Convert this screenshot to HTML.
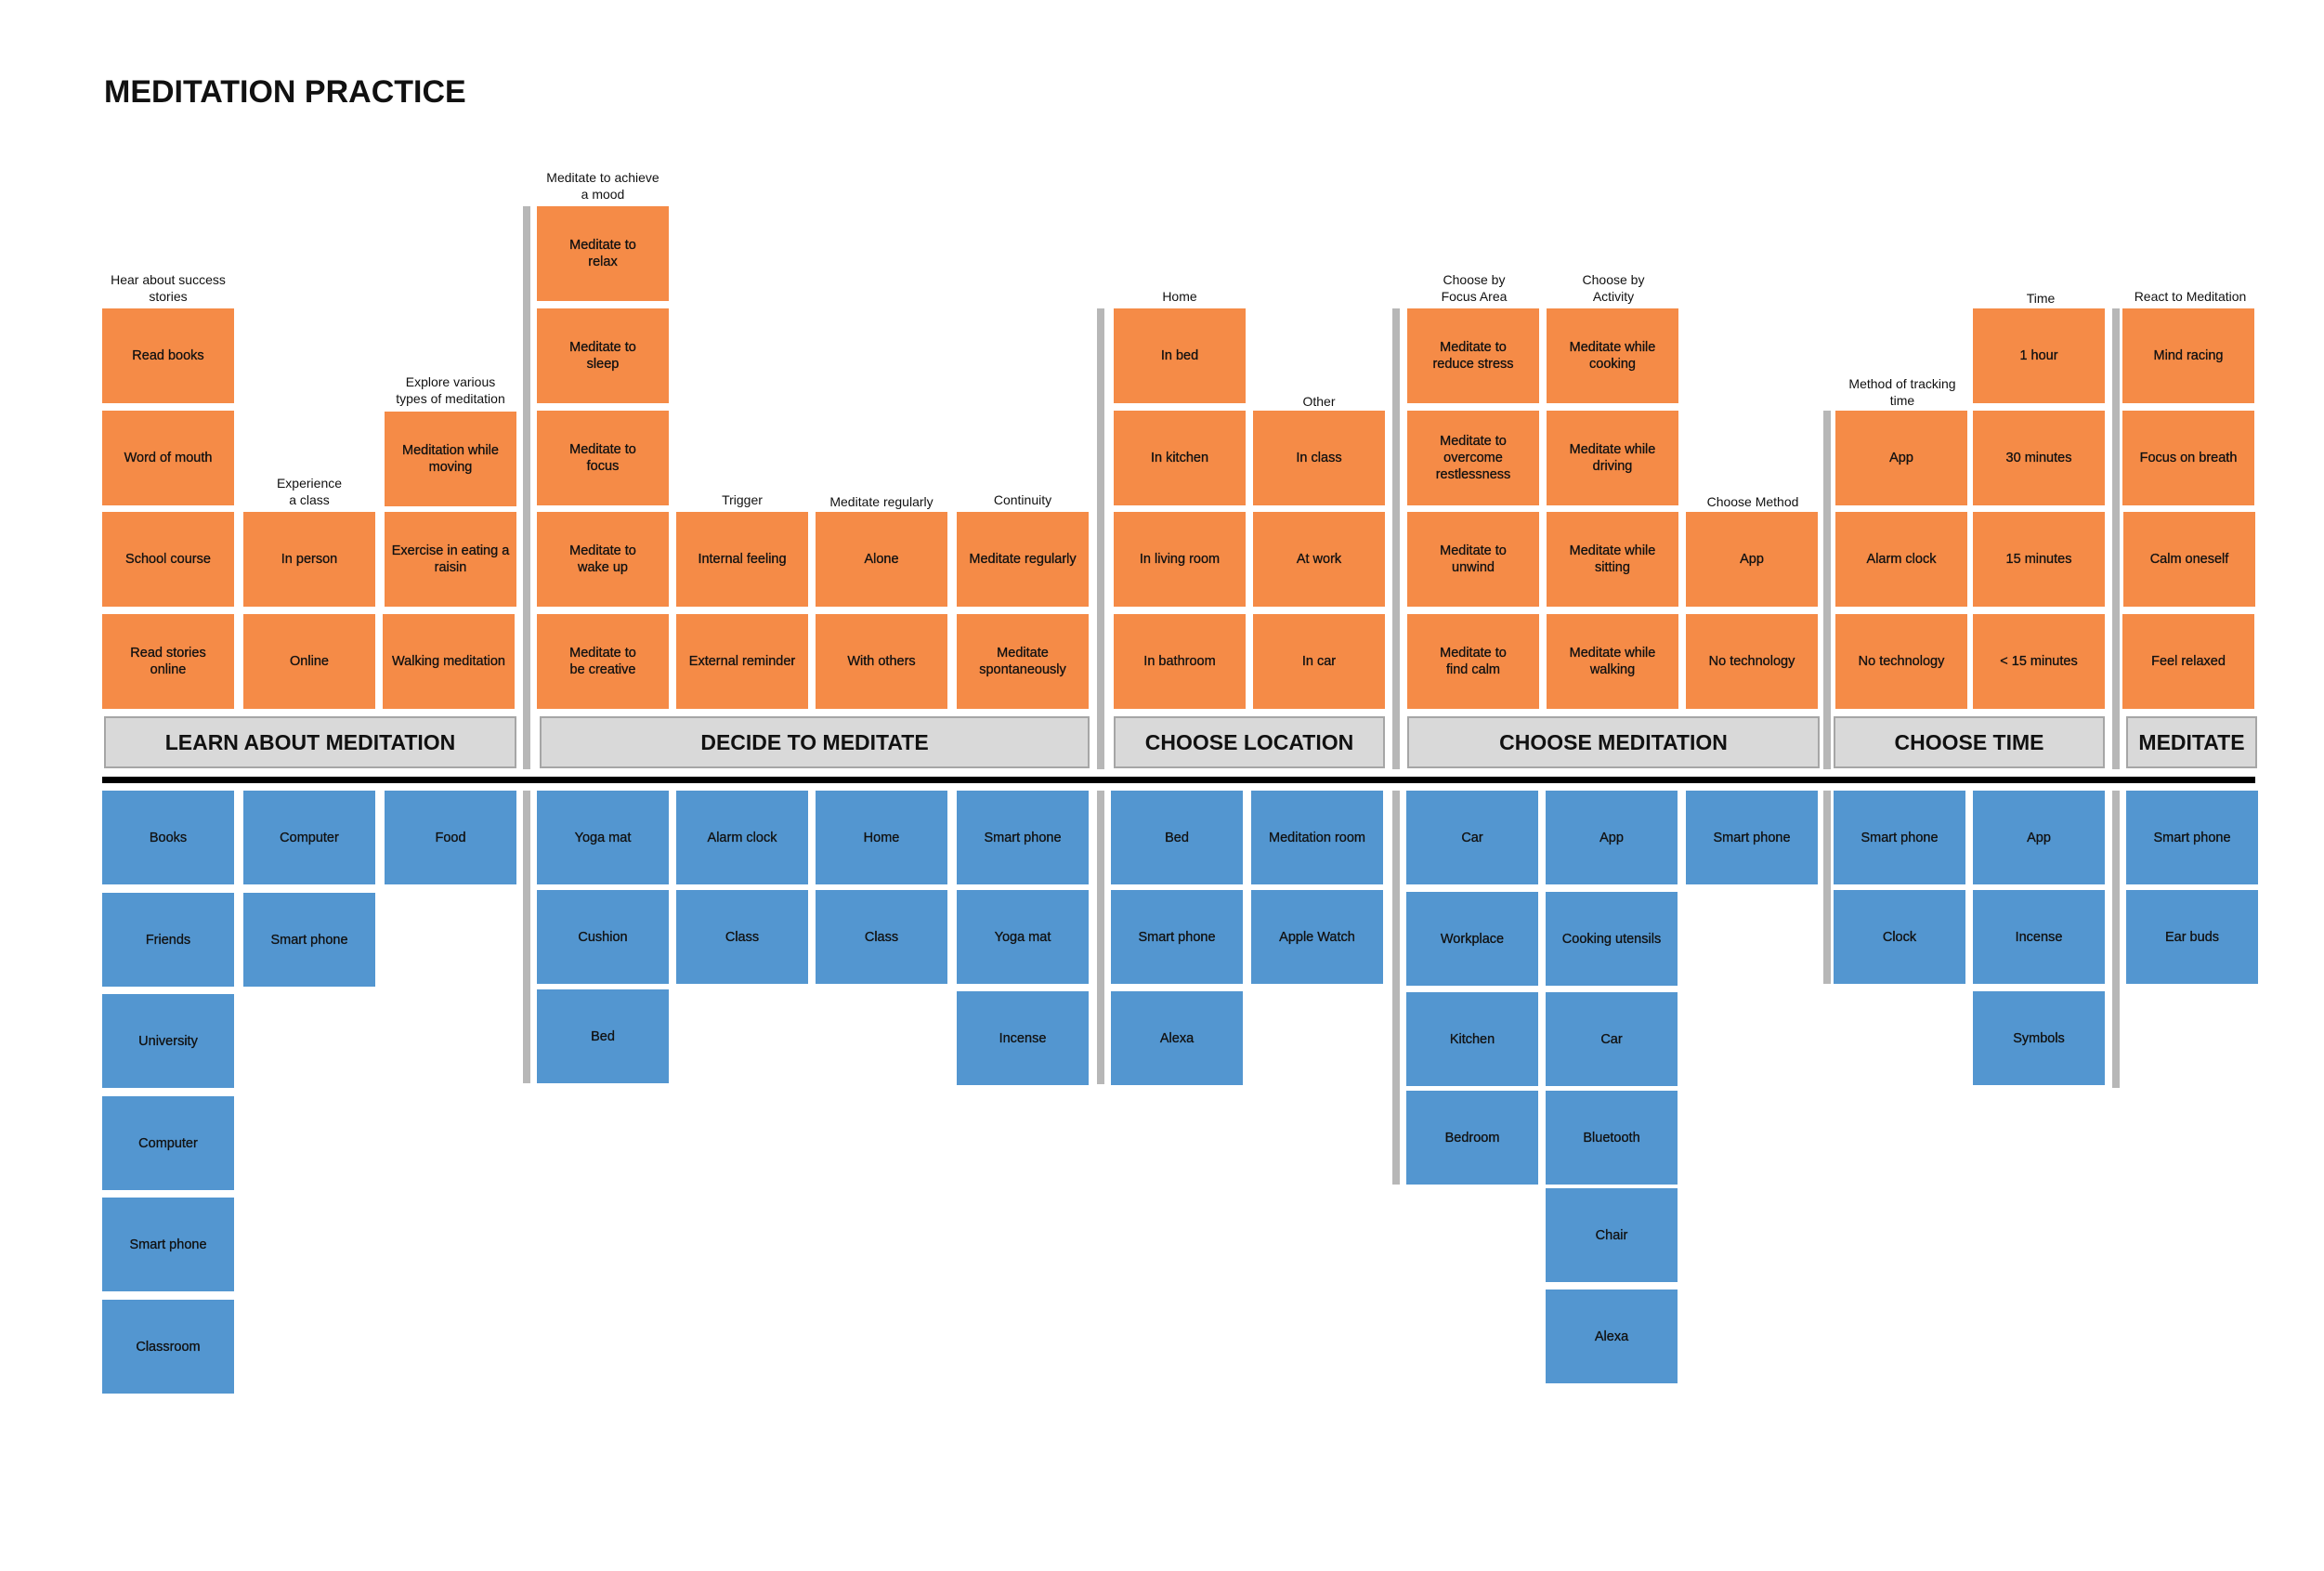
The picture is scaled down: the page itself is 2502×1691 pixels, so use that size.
<!DOCTYPE html>
<html><head><meta charset="utf-8"><style>
body{margin:0;width:2502px;height:1691px;background:#fff;position:relative;overflow:hidden;font-family:"Liberation Sans",sans-serif;color:#111}
.b{position:absolute;width:142px;height:102px;display:flex;align-items:center;justify-content:center;text-align:center;font-size:14.5px;line-height:18px;-webkit-text-stroke:0.3px #111;box-sizing:border-box;padding:0 4px}
.o{background:#F58B47}
.u{background:#5396D0;height:101px}
.l{position:absolute;width:180px;height:40px;display:flex;align-items:flex-end;justify-content:center;text-align:center;font-size:14px;line-height:18px}
.h{position:absolute;top:771px;height:56px;background:#D9D9D9;border:2px solid #A6A6A6;box-sizing:border-box;display:flex;align-items:center;justify-content:center;font-weight:bold;font-size:23px}
.s{position:absolute;width:8px;background:#B7B7B7}
</style></head><body>
<div style="position:absolute;left:112px;top:80px;font-weight:bold;font-size:34px;">MEDITATION PRACTICE</div>

<!-- labels -->
<div class="l" style="left:91px;top:288px">Hear about success<br>stories</div>
<div class="l" style="left:243px;top:507px">Experience<br>a class</div>
<div class="l" style="left:395px;top:398px">Explore various<br>types of meditation</div>
<div class="l" style="left:559px;top:178px">Meditate to achieve<br>a mood</div>
<div class="l" style="left:709px;top:507px">Trigger</div>
<div class="l" style="left:859px;top:509px">Meditate regularly</div>
<div class="l" style="left:1011px;top:507px">Continuity</div>
<div class="l" style="left:1180px;top:288px">Home</div>
<div class="l" style="left:1330px;top:401px">Other</div>
<div class="l" style="left:1497px;top:288px">Choose by<br>Focus Area</div>
<div class="l" style="left:1647px;top:288px">Choose by<br>Activity</div>
<div class="l" style="left:1797px;top:509px">Choose Method</div>
<div class="l" style="left:1958px;top:400px">Method of tracking<br>time</div>
<div class="l" style="left:2107px;top:290px">Time</div>
<div class="l" style="left:2268px;top:288px">React to Meditation</div>

<!-- orange -->
<div class="b o" style="left:110px;top:332px">Read books</div>
<div class="b o" style="left:110px;top:442px">Word of mouth</div>
<div class="b o" style="left:110px;top:551px">School course</div>
<div class="b o" style="left:110px;top:661px">Read stories<br>online</div>
<div class="b o" style="left:262px;top:551px">In person</div>
<div class="b o" style="left:262px;top:661px">Online</div>
<div class="b o" style="left:414px;top:443px">Meditation while<br>moving</div>
<div class="b o" style="left:414px;top:551px">Exercise in eating a<br>raisin</div>
<div class="b o" style="left:412px;top:661px">Walking meditation</div>
<div class="b o" style="left:578px;top:222px">Meditate to<br>relax</div>
<div class="b o" style="left:578px;top:332px">Meditate to<br>sleep</div>
<div class="b o" style="left:578px;top:442px">Meditate to<br>focus</div>
<div class="b o" style="left:578px;top:551px">Meditate to<br>wake up</div>
<div class="b o" style="left:578px;top:661px">Meditate to<br>be creative</div>
<div class="b o" style="left:728px;top:551px">Internal feeling</div>
<div class="b o" style="left:728px;top:661px">External reminder</div>
<div class="b o" style="left:878px;top:551px">Alone</div>
<div class="b o" style="left:878px;top:661px">With others</div>
<div class="b o" style="left:1030px;top:551px">Meditate regularly</div>
<div class="b o" style="left:1030px;top:661px">Meditate<br>spontaneously</div>
<div class="b o" style="left:1199px;top:332px">In bed</div>
<div class="b o" style="left:1199px;top:442px">In kitchen</div>
<div class="b o" style="left:1199px;top:551px">In living room</div>
<div class="b o" style="left:1199px;top:661px">In bathroom</div>
<div class="b o" style="left:1349px;top:442px">In class</div>
<div class="b o" style="left:1349px;top:551px">At work</div>
<div class="b o" style="left:1349px;top:661px">In car</div>
<div class="b o" style="left:1515px;top:332px">Meditate to<br>reduce stress</div>
<div class="b o" style="left:1515px;top:442px">Meditate to<br>overcome<br>restlessness</div>
<div class="b o" style="left:1515px;top:551px">Meditate to<br>unwind</div>
<div class="b o" style="left:1515px;top:661px">Meditate to<br>find calm</div>
<div class="b o" style="left:1665px;top:332px">Meditate while<br>cooking</div>
<div class="b o" style="left:1665px;top:442px">Meditate while<br>driving</div>
<div class="b o" style="left:1665px;top:551px">Meditate while<br>sitting</div>
<div class="b o" style="left:1665px;top:661px">Meditate while<br>walking</div>
<div class="b o" style="left:1815px;top:551px">App</div>
<div class="b o" style="left:1815px;top:661px">No technology</div>
<div class="b o" style="left:1976px;top:442px">App</div>
<div class="b o" style="left:1976px;top:551px">Alarm clock</div>
<div class="b o" style="left:1976px;top:661px">No technology</div>
<div class="b o" style="left:2124px;top:332px">1 hour</div>
<div class="b o" style="left:2124px;top:442px">30 minutes</div>
<div class="b o" style="left:2124px;top:551px">15 minutes</div>
<div class="b o" style="left:2124px;top:661px">&lt; 15 minutes</div>
<div class="b o" style="left:2285px;top:332px">Mind racing</div>
<div class="b o" style="left:2285px;top:442px">Focus on breath</div>
<div class="b o" style="left:2286px;top:551px">Calm oneself</div>
<div class="b o" style="left:2285px;top:661px">Feel relaxed</div>

<!-- headers -->
<div class="h" style="left:112px;width:444px">LEARN ABOUT MEDITATION</div>
<div class="h" style="left:581px;width:592px">DECIDE TO MEDITATE</div>
<div class="h" style="left:1199px;width:292px">CHOOSE LOCATION</div>
<div class="h" style="left:1515px;width:444px">CHOOSE MEDITATION</div>
<div class="h" style="left:1974px;width:292px">CHOOSE TIME</div>
<div class="h" style="left:2289px;width:141px">MEDITATE</div>

<div style="position:absolute;left:110px;top:836px;width:2318px;height:7px;background:#000"></div>

<!-- separators -->
<div class="s" style="left:563px;top:222px;height:606px"></div>
<div class="s" style="left:563px;top:851px;height:315px"></div>
<div class="s" style="left:1181px;top:332px;height:496px"></div>
<div class="s" style="left:1181px;top:851px;height:316px"></div>
<div class="s" style="left:1499px;top:332px;height:496px"></div>
<div class="s" style="left:1499px;top:851px;height:424px"></div>
<div class="s" style="left:1963px;top:442px;height:386px"></div>
<div class="s" style="left:1963px;top:851px;height:208px"></div>
<div class="s" style="left:2274px;top:332px;height:496px"></div>
<div class="s" style="left:2274px;top:851px;height:320px"></div>

<!-- blue -->
<div class="b u" style="left:110px;top:851px">Books</div>
<div class="b u" style="left:110px;top:961px">Friends</div>
<div class="b u" style="left:110px;top:1070px">University</div>
<div class="b u" style="left:110px;top:1180px">Computer</div>
<div class="b u" style="left:110px;top:1289px">Smart phone</div>
<div class="b u" style="left:110px;top:1399px">Classroom</div>
<div class="b u" style="left:262px;top:851px">Computer</div>
<div class="b u" style="left:262px;top:961px">Smart phone</div>
<div class="b u" style="left:414px;top:851px">Food</div>
<div class="b u" style="left:578px;top:851px">Yoga mat</div>
<div class="b u" style="left:578px;top:958px">Cushion</div>
<div class="b u" style="left:578px;top:1065px">Bed</div>
<div class="b u" style="left:728px;top:851px">Alarm clock</div>
<div class="b u" style="left:728px;top:958px">Class</div>
<div class="b u" style="left:878px;top:851px">Home</div>
<div class="b u" style="left:878px;top:958px">Class</div>
<div class="b u" style="left:1030px;top:851px">Smart phone</div>
<div class="b u" style="left:1030px;top:958px">Yoga mat</div>
<div class="b u" style="left:1030px;top:1067px">Incense</div>
<div class="b u" style="left:1196px;top:851px">Bed</div>
<div class="b u" style="left:1196px;top:958px">Smart phone</div>
<div class="b u" style="left:1196px;top:1067px">Alexa</div>
<div class="b u" style="left:1347px;top:851px">Meditation room</div>
<div class="b u" style="left:1347px;top:958px">Apple Watch</div>
<div class="b u" style="left:1514px;top:851px">Car</div>
<div class="b u" style="left:1514px;top:960px">Workplace</div>
<div class="b u" style="left:1514px;top:1068px">Kitchen</div>
<div class="b u" style="left:1514px;top:1174px">Bedroom</div>
<div class="b u" style="left:1664px;top:851px">App</div>
<div class="b u" style="left:1664px;top:960px">Cooking utensils</div>
<div class="b u" style="left:1664px;top:1068px">Car</div>
<div class="b u" style="left:1664px;top:1174px">Bluetooth</div>
<div class="b u" style="left:1664px;top:1279px">Chair</div>
<div class="b u" style="left:1664px;top:1388px">Alexa</div>
<div class="b u" style="left:1815px;top:851px">Smart phone</div>
<div class="b u" style="left:1974px;top:851px">Smart phone</div>
<div class="b u" style="left:1974px;top:958px">Clock</div>
<div class="b u" style="left:2124px;top:851px">App</div>
<div class="b u" style="left:2124px;top:958px">Incense</div>
<div class="b u" style="left:2124px;top:1067px">Symbols</div>
<div class="b u" style="left:2289px;top:851px">Smart phone</div>
<div class="b u" style="left:2289px;top:958px">Ear buds</div>
</body></html>
